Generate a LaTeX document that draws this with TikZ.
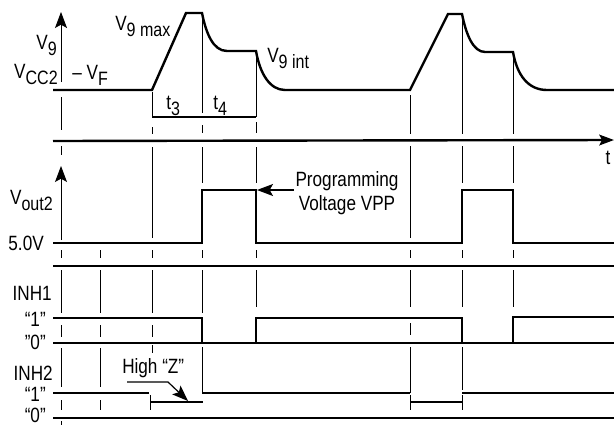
\documentclass[tikz,border=0pt]{standalone}
\usepackage{fontspec}
\setmainfont{Liberation Sans}[FakeStretch=0.83]
\usetikzlibrary{arrows.meta}
\newcommand{\lowsub}[1]{\raisebox{-0.3em}{\fontsize{14.5}{15}\selectfont #1}}
\begin{document}
\begin{tikzpicture}[x=0.75pt,y=-0.75pt,
  wave/.style={line width=1.8pt},
  grid/.style={line width=0.7pt},
  arr/.style={-{Stealth[length=12pt,width=9pt,inset=2.5pt]}},
  lbl/.style={inner sep=0pt, font=\fontsize{15.5}{17}\selectfont}]
\useasboundingbox (0,0) rectangle (614,425);

% ---------- V9 waveform ----------
\draw[wave] (53,90) -- (152,90) -- (186,13) -- (202,13)
  .. controls (206,33) and (213,51) .. (227,51) -- (256,51)
  .. controls (260,74) and (270,90) .. (285,90) -- (410,90) -- (448,14) -- (462,14)
  .. controls (466,34) and (473,52) .. (485,52) -- (513,52)
  .. controls (517,75) and (528,90) .. (547,90) -- (614,90);
\draw[wave] (152,117) -- (256,117);
\draw[wave,-{Stealth[length=11pt,width=8pt,inset=2pt]}] (53,141) -- (614,140);

% ---------- Vout2 ----------
\draw[wave] (53,243) -- (202,243) -- (202,190) -- (256,190) -- (256,243) -- (462,243)
  -- (462,190) -- (513,190) -- (513,243) -- (614,243);
\draw[wave] (53,266) -- (614,266);

% ---------- INH1 ----------
\draw[wave] (53,318) -- (202,318) -- (202,343);
\draw[wave] (256,343) -- (256,318) -- (462,318) -- (462,343);
\draw[wave] (513,343) -- (513,317) -- (614,317);
\draw[wave] (53,343) -- (614,343);

% ---------- INH2 ----------
\draw[wave] (53,393) -- (149,393);
\draw[wave] (202,393) -- (410,393);
\draw[wave] (462,393) -- (614,393);
\draw[wave] (150,402) -- (203,402);
\draw[wave] (410,402) -- (462,402);
\draw[wave] (53,418) -- (614,418);

% ---------- thin vertical guides ----------
\draw[grid]
  (61,97)--(61,130) (61,146)--(61,155) (61,250)--(61,258) (61,270)--(61,313)
  (61,325)--(61,337) (61,348)--(61,387) (61,400)--(61,410) (61,421)--(61,425)
  (100,250)--(100,258) (100,270)--(100,313) (100,325)--(100,337) (100,348)--(100,387) (100,400)--(100,410)
  (152,92)--(152,117) (152,127)--(152,134) (152,147)--(152,238) (152,250)--(152,258)
  (152,270)--(152,313) (152,325)--(152,337) (152,345)--(152,353) (150,395)--(150,410)
  (202,13)--(202,113) (202,125)--(202,133) (202,147)--(202,183) (202,250)--(202,258)
  (202,270)--(202,313) (202,347)--(202,393)
  (256,51)--(256,117) (256,122)--(256,133) (256,147)--(256,183) (256,250)--(256,258) (256,270)--(256,307)
  (410,95)--(410,134) (410,146)--(410,238) (410,250)--(410,258) (410,270)--(410,307)
  (410,323)--(410,335) (410,347)--(410,393) (410,395)--(410,410)
  (462,14)--(462,134) (462,146)--(462,183) (462,250)--(462,258) (462,270)--(462,307)
  (462,347)--(462,390) (462,395)--(462,410)
  (513,52)--(513,134) (513,146)--(513,183) (513,250)--(513,258) (513,270)--(513,307);

% ---------- axes arrows ----------
\coordinate (v9base) at (61,82);
\coordinate (v9tip) at (61,12);
\draw[grid,arr] (v9base) -- (v9tip);
\coordinate (vobase) at (61,240);
\coordinate (votip) at (61,166);
\draw[grid,arr] (vobase) -- (votip);

% ---------- labels ----------
\node[lbl,anchor=base east] (v9) at (57,49) {V\lowsub{9}};
\node[lbl,anchor=base east] (vcc) at (58,78) {V\lowsub{CC2}};
\node[lbl,anchor=base west] (vf) at (72,79) {– V\lowsub{F}};
\node[lbl,anchor=base west] (vmax) at (115,30) {V\lowsub{9 max}};
\node[lbl,anchor=base west] (vint) at (267,62) {V\lowsub{9 int}};
\node[lbl,anchor=base west] (t3) at (166,109) {t\lowsub{3}};
\node[lbl,anchor=base west] (t4) at (213,109) {t\lowsub{4}};
\node[lbl,anchor=base] (tl) at (608,164) {t};
\node[lbl,anchor=base east] (vout) at (53,204) {V\lowsub{out2}};
\node[lbl,anchor=base east] (five) at (44,250) {5.0V};
\node[lbl,align=center] (prog) at (347,193) {Programming\\[1pt]Voltage VPP};
\node[lbl,anchor=base east] (inh1) at (52,300) {INH1};
\node[lbl,anchor=east] (i1a) at (46,319) {“1”};
\node[lbl,anchor=east] (i1b) at (46,342) {”0”};
\node[lbl,anchor=base east] (inh2) at (53,380) {INH2};
\node[lbl,anchor=east] (i2a) at (46,394) {“1”};
\node[lbl,anchor=east] (i2b) at (46,415) {“0”};
\node[lbl,anchor=base west] (hz) at (122,373) {High “Z”};

% ---------- pointer arrows ----------
\coordinate (progtip) at (257,190);
\coordinate (progstart) at (294,190);
\draw[line width=0.9pt,arr] (progstart) -- (progtip);
\coordinate (hzs) at (127,382);
\coordinate (hzk) at (168,382);
\coordinate (hzt) at (188,401);
\draw[line width=0.9pt,arr] (hzs) -- (hzk) -- (hzt);
\end{tikzpicture}
\end{document}
